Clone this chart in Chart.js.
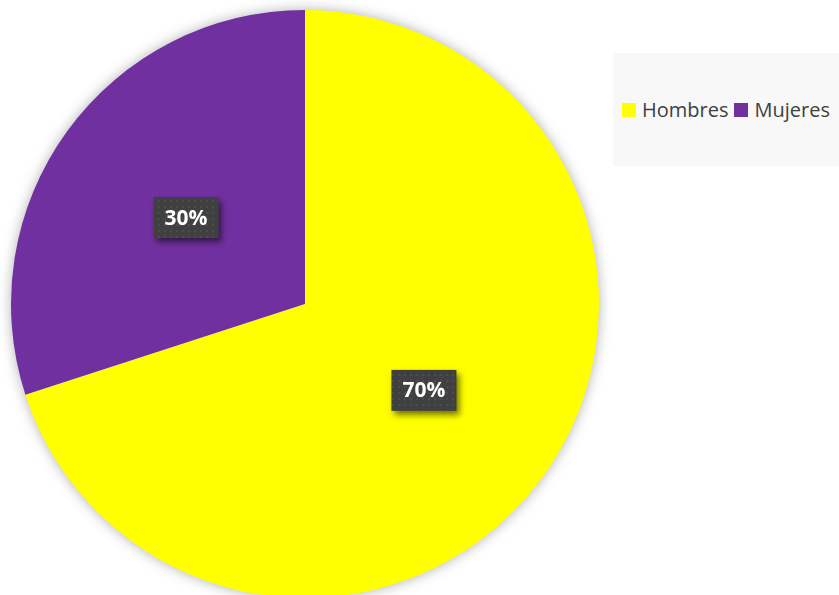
<!DOCTYPE html>
<html>
<head>
<meta charset="utf-8">
<script src="https://cdn.jsdelivr.net/npm/chart.js@4/dist/chart.umd.min.js"></script>
<style>
  html, body { margin: 0; padding: 0; background: #ffffff; overflow: hidden; }
  #wrap { position: relative; width: 839px; height: 595px; overflow: hidden; }
  #chart { position: absolute; left: 0; top: 0; }
  #legend {
    position: absolute; left: 613px; top: 53px; width: 226px; height: 113px;
    background: #f8f8f8; display: flex; align-items: center;
    font-family: "Open Sans", sans-serif; font-size: 20px; color: #404040;
    white-space: nowrap;
  }
  .item { display: flex; align-items: center; margin-left: 9px; }
  .item + .item { margin-left: 6px; }
  .swatch { width: 14px; height: 14px; margin-right: 6px; }
</style>
</head>
<body>
<div id="wrap">
  <canvas id="chart" width="839" height="620"></canvas>
  <div id="legend"></div>
</div>
<script>
// Gender split
const categories = ["Hombres", "Mujeres"];
const shares = [70, 30];
const sliceColors = ["#FFFF00", "#7030A0"];

// Legend
const legendEl = document.getElementById("legend");
categories.forEach((name, i) => {
  const item = document.createElement("div");
  item.className = "item";
  const sw = document.createElement("span");
  sw.className = "swatch";
  sw.style.background = sliceColors[i];
  const txt = document.createElement("span");
  txt.textContent = name;
  item.appendChild(sw);
  item.appendChild(txt);
  legendEl.appendChild(item);
});

// Dotted dark fill for the value boxes
function dotPattern(ctx) {
  const c = document.createElement("canvas");
  c.width = 6; c.height = 6;
  const p = c.getContext("2d");
  p.fillStyle = "#404040";
  p.fillRect(0, 0, 6, 6);
  p.fillStyle = "#4c4c4c";
  p.fillRect(2, 2, 2, 2);
  return ctx.createPattern(c, "repeat");
}

// Soft glow behind the whole pie
const pieShadow = {
  id: "pieShadow",
  beforeDatasetsDraw(chart) {
    const arc = chart.getDatasetMeta(0).data[0];
    if (!arc) return;
    const ctx = chart.ctx;
    ctx.save();
    ctx.shadowColor = "rgba(0,0,0,0.35)";
    ctx.shadowBlur = 14;
    ctx.fillStyle = "#ffffff";
    ctx.beginPath();
    ctx.arc(arc.x, arc.y, arc.outerRadius - 1, 0, Math.PI * 2);
    ctx.fill();
    ctx.restore();
  }
};

// Percentage boxes at half radius
const valueBoxes = {
  id: "valueBoxes",
  afterDatasetsDraw(chart) {
    const ctx = chart.ctx;
    const meta = chart.getDatasetMeta(0);
    const data = chart.data.datasets[0].data;
    const total = data.reduce((a, b) => a + b, 0);
    const fill = dotPattern(ctx);
    meta.data.forEach((arc, i) => {
      const mid = (arc.startAngle + arc.endAngle) / 2;
      const r = arc.outerRadius * 0.5;
      const cx = arc.x + Math.cos(mid) * r;
      const cy = arc.y + Math.sin(mid) * r;
      const label = Math.round(data[i] / total * 100) + "%";
      const w = 65, h = 41;
      ctx.save();
      ctx.shadowColor = "rgba(0,0,0,0.55)";
      ctx.shadowBlur = 6;
      ctx.shadowOffsetX = 3;
      ctx.shadowOffsetY = 4;
      ctx.fillStyle = fill;
      ctx.fillRect(cx - w / 2, cy - h / 2, w, h);
      ctx.restore();
      ctx.save();
      ctx.fillStyle = "#ffffff";
      ctx.font = "bold 21px 'Open Sans', sans-serif";
      ctx.textAlign = "center";
      ctx.textBaseline = "middle";
      ctx.fillText(label, cx, cy + 1);
      ctx.restore();
    });
  }
};

new Chart(document.getElementById("chart"), {
  type: "pie",
  data: {
    labels: categories,
    datasets: [{
      data: shares,
      backgroundColor: sliceColors,
      borderWidth: 0
    }]
  },
  options: {
    responsive: false,
    animation: false,
    rotation: 0,
    layout: { padding: { left: 11, right: 240, top: 10, bottom: 22 } },
    plugins: {
      legend: { display: false },
      tooltip: { enabled: false }
    }
  },
  plugins: [pieShadow, valueBoxes]
});
</script>
</body>
</html>
